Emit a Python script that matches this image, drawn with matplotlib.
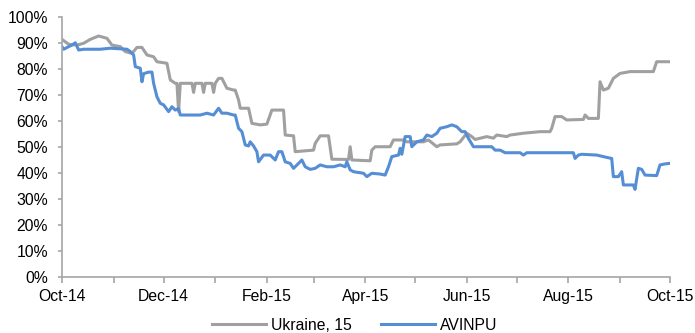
import matplotlib
matplotlib.use("Agg")
import matplotlib.pyplot as plt
import matplotlib.dates as mdates
from matplotlib.ticker import FuncFormatter, MultipleLocator
import pandas as pd

plt.rcParams['font.family'] = ['Liberation Sans', 'DejaVu Sans']

start_date = "2014-10-01"

# Ukraine, 15 : days since start_date, value in %
ukr_days = [0, 4, 9, 13, 17, 22, 27, 30, 35, 38, 42, 45, 48, 51, 55, 57, 63, 65, 68, 69,
            70, 71, 78, 79, 80, 84, 85, 86, 90, 91, 92, 94, 96, 99, 103, 104, 106, 107, 112, 114,
            119, 123, 126, 133, 134, 139, 140, 151, 152, 155, 160, 162, 172, 173, 174, 185, 186, 188, 197, 199,
            205, 207, 217, 220, 225, 227, 237, 239, 243, 246, 248, 255, 259, 261, 267, 269, 277, 287, 293, 294,
            296, 300, 303, 313, 314, 316, 322, 323, 325, 328, 331, 335, 341, 355, 357, 365]
ukr_vals = [91.4, 89.5, 89.2, 89.9, 91.4, 92.7, 91.8, 89.2, 88.6, 86.7, 86.0, 88.3, 88.3, 85.4, 84.7, 82.8, 82.2, 75.8, 74.5, 74.5,
            63.6, 74.5, 74.5, 71.0, 74.5, 74.5, 71.0, 74.5, 74.5, 71.0, 74.5, 76.4, 76.4, 72.6, 71.9, 71.9, 68.1, 64.9, 64.9, 59.1,
            58.5, 58.8, 64.2, 64.2, 54.6, 54.3, 48.2, 48.8, 51.4, 54.3, 54.3, 45.3, 45.2, 50.1, 45.0, 44.7, 48.8, 50.1, 50.1, 52.7,
            52.7, 52.0, 52.0, 52.7, 50.1, 50.8, 51.2, 52.0, 55.3, 54.0, 52.9, 54.0, 53.4, 54.6, 54.0, 54.6, 55.3, 55.9, 55.9, 57.2,
            61.7, 61.7, 60.4, 60.6, 62.3, 61.0, 61.0, 75.1, 71.9, 72.6, 76.4, 78.3, 79.0, 79.0, 82.8, 82.8]

# AVINPU
avi_days = [0, 1, 4, 6, 8, 10, 13, 23, 29, 39, 41, 43, 44, 47, 48, 49, 52, 54, 55, 57,
            59, 61, 64, 66, 68, 70, 71, 83, 87, 91, 94, 96, 99, 103, 104, 106, 108, 110, 112, 113,
            115, 117, 118, 121, 125, 128, 130, 132, 134, 137, 139, 142, 144, 146, 149, 152, 155, 159, 163, 167,
            170, 171, 173, 175, 181, 183, 186, 191, 194, 196, 198, 202, 203, 204, 206, 209, 210, 213, 217, 219,
            222, 225, 227, 231, 234, 237, 240, 242, 244, 247, 258, 260, 263, 266, 275, 277, 279, 307, 308, 310,
            312, 321, 327, 330, 331, 334, 336, 337, 343, 344, 346, 348, 350, 357, 359, 362, 365]
avi_vals = [88.6, 87.6, 88.6, 89.2, 90.1, 87.3, 87.6, 87.6, 88.0, 87.6, 86.7, 85.4, 80.9, 80.3, 75.1, 78.2, 78.8, 78.8, 74.5, 69.3,
            66.8, 66.2, 63.6, 65.5, 64.2, 64.8, 62.3, 62.3, 63.0, 62.3, 64.9, 63.0, 63.0, 62.3, 62.3, 57.2, 55.9, 50.8, 50.4, 52.0,
            50.4, 48.2, 44.3, 46.9, 46.9, 45.0, 48.2, 48.2, 44.3, 43.7, 41.8, 43.7, 45.0, 42.4, 41.4, 41.8, 43.1, 42.4, 42.4, 43.1,
            42.4, 44.3, 41.2, 40.5, 39.9, 38.6, 39.9, 39.6, 39.2, 42.4, 46.3, 46.9, 49.5, 47.2, 54.0, 54.0, 50.1, 52.0, 52.7, 54.6,
            54.0, 55.3, 57.2, 57.8, 58.5, 57.8, 55.9, 55.9, 53.3, 50.1, 50.1, 48.8, 48.8, 47.8, 47.8, 46.9, 47.8, 47.8, 45.6, 46.9,
            47.2, 46.9, 46.0, 45.6, 38.6, 38.6, 40.5, 35.4, 35.4, 33.7, 41.8, 41.4, 39.2, 39.0, 43.1, 43.5, 43.7]

series_names = ["Ukraine, 15", "AVINPU"]
series_colors = ["#A0A0A0", "#558ED5"]

t0 = pd.Timestamp(start_date)
ukr_dates = [t0 + pd.Timedelta(days=d) for d in ukr_days]
avi_dates = [t0 + pd.Timedelta(days=d) for d in avi_days]

fig = plt.figure(figsize=(6.95, 3.33), dpi=100)
ax = fig.add_axes([62/695, 1-277/333, (670-62)/695, (277-17)/333])

l1, = ax.plot(ukr_dates, ukr_vals, color=series_colors[0], lw=2.2, label=series_names[0])
l2, = ax.plot(avi_dates, avi_vals, color=series_colors[1], lw=2.2, label=series_names[1])

ax.set_ylim(0, 100)
ax.set_xlim(pd.Timestamp("2014-10-01"), pd.Timestamp("2015-10-01"))
ax.yaxis.set_major_locator(MultipleLocator(10))
ax.yaxis.set_major_formatter(FuncFormatter(lambda v, p: f"{int(round(v))}%"))

ax.xaxis.set_major_locator(mdates.MonthLocator(bymonth=[2, 4, 6, 8, 10, 12]))
ax.xaxis.set_minor_locator(mdates.MonthLocator())
ax.xaxis.set_major_formatter(mdates.DateFormatter("%b-%y"))

for s in ["top", "right"]:
    ax.spines[s].set_visible(False)
for s in ["left", "bottom"]:
    ax.spines[s].set_color("#A6A6A6")
    ax.spines[s].set_linewidth(1.2)

ax.tick_params(axis="both", which="both", direction="out", color="#A6A6A6", width=1.2,
               labelsize=11.3, labelcolor="#000000")
ax.tick_params(axis="x", which="both", length=4, pad=4.5)
ax.tick_params(axis="y", which="major", length=3, pad=7)

fig.legend(handles=[l1, l2], labels=series_names, loc="center",
           bbox_to_anchor=(355/695, 1-325/333), ncol=2, frameon=False,
           fontsize=11.3, handlelength=3.45, handletextpad=0.32, columnspacing=1.85,
           borderaxespad=0, borderpad=0)

fig.savefig("out.png", dpi=100)
